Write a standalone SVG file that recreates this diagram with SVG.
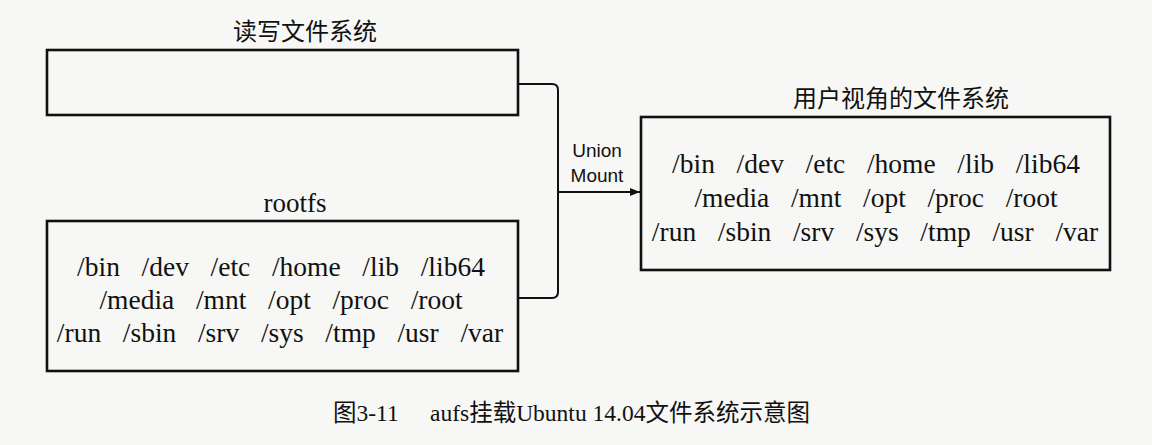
<svg xmlns="http://www.w3.org/2000/svg" width="1152" height="445" viewBox="0 0 1152 445">
  <style>
    .box { fill: none; stroke: #111; stroke-width: 2.6; }
    .conn { fill: none; stroke: #111; stroke-width: 2; }
    .cjk { font-family: "Noto Sans CJK SC", sans-serif; font-size: 24px; fill: #111; text-anchor: middle; }
    .dirs { font-family: "Liberation Serif", serif; font-size: 27.5px; fill: #111; text-anchor: middle; word-spacing: 14.8px; }
    .lbl { font-family: "Liberation Serif", serif; font-size: 27px; fill: #111; text-anchor: middle; }
    .um { font-family: "Liberation Sans", sans-serif; font-size: 19px; fill: #111; text-anchor: middle; }
    .cap { font-family: "Liberation Serif", "Noto Sans CJK SC", serif; font-size: 23.5px; fill: #111; }
  </style>
  <defs>
    <marker id="arrow" viewBox="0 0 10 10" refX="10" refY="5" markerWidth="5" markerHeight="5" orient="auto" markerUnits="strokeWidth">
      <path d="M0,1 L10,5 L0,9 Z" fill="#111"/>
    </marker>
  </defs>
  <rect width="1152" height="445" fill="#f7f7f5"/>

  <g id="rw-layer">
    <text class="cjk" x="305" y="40">读写文件系统</text>
    <rect class="box" x="47" y="50" width="471" height="65"/>
  </g>

  <g id="rootfs">
    <text class="lbl" x="295" y="212">rootfs</text>
    <rect class="box" x="47" y="221" width="471" height="150"/>
    <text class="dirs" x="281" y="276">/bin /dev /etc /home /lib /lib64</text>
    <text class="dirs" x="281" y="309">/media /mnt /opt /proc /root</text>
    <text class="dirs" x="280" y="342">/run /sbin /srv /sys /tmp /usr /var</text>
  </g>

  <g id="user-view">
    <text class="cjk" x="901" y="107">用户视角的文件系统</text>
    <rect class="box" x="641" y="117" width="469" height="153"/>
    <text class="dirs" x="876" y="173">/bin /dev /etc /home /lib /lib64</text>
    <text class="dirs" x="876" y="207">/media /mnt /opt /proc /root</text>
    <text class="dirs" x="875" y="241">/run /sbin /srv /sys /tmp /usr /var</text>
  </g>

  <g id="connectors">
    <path class="conn" d="M518,84 L552,84 Q558,84 558,90 L558,292 Q558,298 552,298 L518,298"/>
    <line class="conn" x1="558" y1="192" x2="640" y2="192" marker-end="url(#arrow)"/>
    <text class="um" x="597" y="157">Union</text>
    <text class="um" x="597" y="182">Mount</text>
  </g>

  <g id="caption">
    <text class="cap" x="333" y="421">图3-11</text>
    <text class="cap" x="430" y="421">aufs挂载Ubuntu 14.04文件系统示意图</text>
  </g>
</svg>
